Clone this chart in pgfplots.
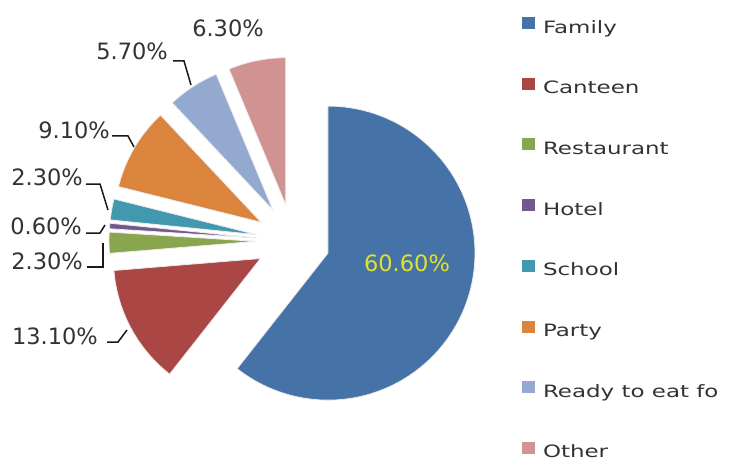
\documentclass[border=0pt]{standalone}
\usepackage{pgfplots}
\pgfplotsset{compat=1.18}
\usepackage{pgfplotstable}
\usepackage{fontspec}
\setmainfont{DejaVu Sans}
\newfontfamily\legfont[FakeStretch=1.35]{DejaVu Sans}
\definecolor{c0}{HTML}{4572A7}
\definecolor{c1}{HTML}{AA4643}
\definecolor{c2}{HTML}{89A54E}
\definecolor{c3}{HTML}{71588F}
\definecolor{c4}{HTML}{4198AF}
\definecolor{c5}{HTML}{DB843D}
\definecolor{c6}{HTML}{93A9CF}
\definecolor{c7}{HTML}{D19392}
\definecolor{lbl}{HTML}{333333}
\definecolor{yel}{HTML}{E2E22A}

\pgfplotstableread{
name value
Family 60.6
Canteen 13.1
Restaurant 2.3
Hotel 0.6
School 2.3
Party 9.1
Ready 5.7
Other 6.3
}\piedata

\def\cumsum{0}
\pgfplotstableforeachcolumnelement{value}\of\piedata\as\v{%
  \pgfmathsetmacro\sa{90-3.6*\cumsum}%
  \pgfmathsetmacro\newsum{\cumsum+\v}%
  \pgfmathsetmacro\ea{90-3.6*\newsum}%
  \pgfmathsetmacro\ma{(\sa+\ea)/2}%
  \expandafter\xdef\csname sa\pgfplotstablerow\endcsname{\sa}%
  \expandafter\xdef\csname ea\pgfplotstablerow\endcsname{\ea}%
  \expandafter\xdef\csname ma\pgfplotstablerow\endcsname{\ma}%
  \xdef\cumsum{\newsum}%
}
\newcommand\SA[1]{\csname sa#1\endcsname}
\newcommand\EA[1]{\csname ea#1\endcsname}
\newcommand\MA[1]{\csname ma#1\endcsname}
\def\CX{293}\def\CY{223}\def\DX{37}\def\RR{147}

\begin{document}
\begin{tikzpicture}
\useasboundingbox (0,0) rectangle (730pt,464pt);
\clip (0,0) rectangle (730pt,464pt);
\begin{axis}[
  x=1pt, y=1pt, xmin=0, xmax=730, ymin=0, ymax=464,
  at={(0pt,0pt)}, anchor=origin,
  hide axis, clip=false,
  legend image code/.code={\fill (0pt,0pt) rectangle (13pt,12pt);},
  legend cell align=left,
  legend style={at={(axis cs:522,447)}, anchor=north west, draw=none, fill=none,
    inner sep=0pt, outer sep=0pt, row sep=40.7pt, column sep=8pt,
    font=\legfont\fontsize{17}{18}\selectfont, text=lbl,
    nodes={inner sep=0pt, text height=12pt, text depth=4pt}},
]
\pgfplotsinvokeforeach{0,...,7}{%
  \fill[c#1, draw=white!85!gray, line width=0.8pt]
    (axis cs:{\CX+\DX*cos(\MA{#1})},{\CY+\DX*sin(\MA{#1})})
    -- ++(\SA{#1}:\RR pt)
    arc[start angle=\SA{#1}, end angle=\EA{#1}, radius=\RR pt] -- cycle;
}
\addlegendimage{fill=c0, draw=none}\addlegendentry{Family}
\addlegendimage{fill=c1, draw=none}\addlegendentry{Canteen}
\addlegendimage{fill=c2, draw=none}\addlegendentry{Restaurant}
\addlegendimage{fill=c3, draw=none}\addlegendentry{Hotel}
\addlegendimage{fill=c4, draw=none}\addlegendentry{School}
\addlegendimage{fill=c5, draw=none}\addlegendentry{Party}
\addlegendimage{fill=c6, draw=none}\addlegendentry{Ready to eat fo}
\addlegendimage{fill=c7, draw=none}\addlegendentry{Other}

% leader lines
\draw[black!90, line width=1.5pt] (axis cs:173,403) -- (axis cs:184,403) -- (axis cs:191,379);
\draw[black!90, line width=1.5pt] (axis cs:112,328) -- (axis cs:128,328) -- (axis cs:134,317);
\draw[black!90, line width=1.5pt] (axis cs:86,280) -- (axis cs:100,280) -- (axis cs:108,254);
\draw[black!90, line width=1.5pt] (axis cs:86,231) -- (axis cs:100,231) -- (axis cs:105,239);
\draw[black!90, line width=1.5pt] (axis cs:87,197) -- (axis cs:103,197) -- (axis cs:103,221);
\draw[black!90, line width=1.5pt] (axis cs:107,122) -- (axis cs:118,122) -- (axis cs:127,134);

% labels
\begin{scope}[every node/.style={inner sep=0pt, text=lbl, font=\fontsize{22.5}{26}\selectfont}]
\node at (axis cs:228,436) {6.30\%};
\node[anchor=east] at (axis cs:168,413) {5.70\%};
\node[anchor=east] at (axis cs:110,334) {9.10\%};
\node[anchor=east] at (axis cs:83,287) {2.30\%};
\node[anchor=east] at (axis cs:82,238) {0.60\%};
\node[anchor=east] at (axis cs:83,203) {2.30\%};
\node[anchor=east] at (axis cs:98,128) {13.10\%};
\node[text=yel] at (axis cs:407,200.5) {60.60\%};
\end{scope}
\end{axis}
\end{tikzpicture}
\end{document}
